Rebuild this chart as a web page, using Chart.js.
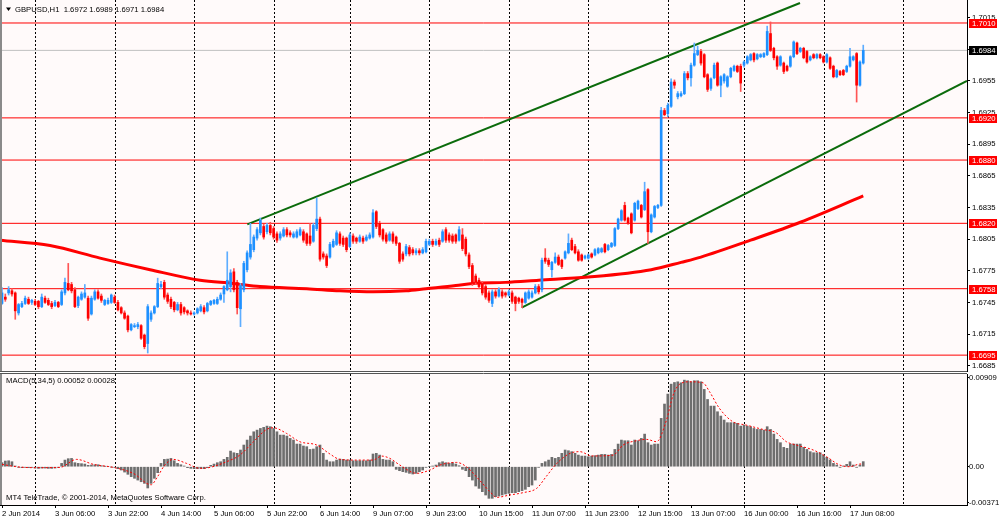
<!DOCTYPE html>
<html>
<head>
<meta charset="utf-8">
<script src="https://cdn.jsdelivr.net/npm/chart.js@4.4.1/dist/chart.umd.min.js"></script>
<style>
  html, body { margin: 0; padding: 0; background: #fff; }
  #wrap { position: relative; width: 1000px; height: 520px; overflow: hidden; }
  #main { position: absolute; left: 0; top: 0; }
  #macd { position: absolute; left: 0; top: 372px; }
</style>
</head>
<body>
<div id="wrap">
  <canvas id="main" width="1000" height="372"></canvas>
  <canvas id="macd" width="1000" height="148"></canvas>
</div>
<script>
// GBPUSD H1 candles, 2 Jun 14:00 .. 17 Jun 11:00
const opens = [
  1.6744,1.6750,1.6754,1.6756,1.6754,1.6735,1.6741,1.6744,1.6748,1.6745,
  1.6746,1.6746,1.6741,1.6749,1.6747,1.6744,1.6742,1.6745,1.6743,1.6754,
  1.6763,1.6762,1.6757,1.6742,1.6748,1.6750,1.6749,1.6734,1.6748,1.6755,
  1.6751,1.6743,1.6744,1.6745,1.6750,1.6745,1.6740,1.6735,1.6732,1.6719,
  1.6722,1.6722,1.6723,1.6714,1.6706,1.6729,1.6735,1.6741,1.6760,1.6764,
  1.6752,1.6748,1.6745,1.6738,1.6743,1.6740,1.6737,1.6735,1.6734,1.6735,
  1.6737,1.6740,1.6737,1.6743,1.6744,1.6744,1.6748,1.6753,1.6757,1.6760,
  1.6774,1.6764,1.6739,1.6757,1.6776,1.6788,1.6795,1.6806,1.6811,1.6817,
  1.6812,1.6818,1.6815,1.6810,1.6806,1.6808,1.6814,1.6811,1.6807,1.6807,
  1.6809,1.6812,1.6810,1.6808,1.6803,1.6815,1.6824,1.6791,1.6789,1.6788,
  1.6798,1.6800,1.6810,1.6806,1.6806,1.6798,1.6808,1.6806,1.6803,1.6806,
  1.6804,1.6806,1.6807,1.6831,1.6820,1.6814,1.6809,1.6804,1.6810,1.6807,
  1.6801,1.6791,1.6791,1.6797,1.6795,1.6792,1.6794,1.6792,1.6793,1.6800,
  1.6803,1.6800,1.6804,1.6803,1.6814,1.6809,1.6808,1.6809,1.6804,1.6809,
  1.6805,1.6790,1.6780,1.6770,1.6766,1.6763,1.6760,1.6754,1.6744,1.6755,
  1.6751,1.6755,1.6754,1.6752,1.6754,1.6750,1.6749,1.6748,1.6745,1.6749,
  1.6750,1.6754,1.6760,1.6757,1.6787,1.6785,1.6776,1.6783,1.6788,1.6785,
  1.6787,1.6792,1.6804,1.6798,1.6793,1.6790,1.6787,1.6787,1.6791,1.6790,
  1.6792,1.6793,1.6800,1.6795,1.6798,1.6799,1.6815,1.6823,1.6837,1.6825,
  1.6829,1.6823,1.6834,1.6837,1.6833,1.6852,1.6812,1.6826,1.6835,1.6837,
  1.6927,1.6924,1.6931,1.6954,1.6940,1.6941,1.6943,1.6962,1.6958,1.6970,
  1.6980,1.6983,1.6980,1.6961,1.6948,1.6958,1.6972,1.6951,1.6955,1.6950,
  1.6959,1.6965,1.6969,1.6969,1.6970,1.6972,1.6975,1.6981,1.6976,1.6978,
  1.6978,1.6980,1.7000,1.6986,1.6978,1.6970,1.6972,1.6969,1.6969,1.6978,
  1.6991,1.6983,1.6986,1.6983,1.6975,1.6980,1.6977,1.6980,1.6978,1.6973,
  1.6977,1.6969,1.6959,1.6964,1.6965,1.6964,1.6969,1.6975,1.6981,1.6951,1.6972
]
const highs = [
  1.6759,1.6753,1.6760,1.6758,1.6755,1.6744,1.6746,1.6751,1.6750,1.6748,
  1.6748,1.6747,1.6753,1.6751,1.6749,1.6746,1.6747,1.6746,1.6757,1.6768,
  1.6782,1.6764,1.6759,1.6751,1.6755,1.6762,1.6751,1.6751,1.6757,1.6757,
  1.6753,1.6748,1.6749,1.6753,1.6752,1.6747,1.6741,1.6737,1.6733,1.6725,
  1.6725,1.6726,1.6724,1.6715,1.6743,1.6737,1.6742,1.6768,1.6765,1.6766,
  1.6754,1.6750,1.6746,1.6745,1.6745,1.6741,1.6738,1.6737,1.6736,1.6740,
  1.6743,1.6742,1.6745,1.6747,1.6748,1.6750,1.6754,1.6761,1.6793,1.6776,
  1.6777,1.6766,1.6763,1.6784,1.6794,1.6820,1.6809,1.6816,1.6825,1.6819,
  1.6820,1.6821,1.6817,1.6812,1.6812,1.6816,1.6816,1.6813,1.6812,1.6814,
  1.6816,1.6814,1.6811,1.6820,1.6820,1.6844,1.6826,1.6793,1.6791,1.6802,
  1.6805,1.6813,1.6812,1.6808,1.6807,1.6811,1.6810,1.6807,1.6809,1.6808,
  1.6809,1.6811,1.6833,1.6832,1.6822,1.6815,1.6811,1.6812,1.6812,1.6808,
  1.6802,1.6793,1.6800,1.6799,1.6797,1.6796,1.6796,1.6797,1.6805,1.6805,
  1.6805,1.6805,1.6806,1.6814,1.6816,1.6811,1.6810,1.6810,1.6817,1.6815,
  1.6807,1.6792,1.6782,1.6772,1.6768,1.6765,1.6762,1.6756,1.6757,1.6757,
  1.6759,1.6757,1.6755,1.6757,1.6756,1.6751,1.6750,1.6749,1.6755,1.6757,
  1.6756,1.6762,1.6762,1.6787,1.6796,1.6787,1.6784,1.6792,1.6790,1.6786,
  1.6794,1.6810,1.6806,1.6800,1.6795,1.6791,1.6790,1.6791,1.6792,1.6796,
  1.6797,1.6797,1.6801,1.6800,1.6802,1.6816,1.6825,1.6833,1.6840,1.6826,
  1.6830,1.6840,1.6842,1.6838,1.6859,1.6853,1.6829,1.6837,1.6838,1.6930,
  1.6929,1.6934,1.6957,1.6956,1.6945,1.6945,1.6964,1.6964,1.6972,1.6991,
  1.6988,1.6985,1.6981,1.6962,1.6958,1.6972,1.6973,1.6960,1.6962,1.6960,
  1.6968,1.6970,1.6970,1.6971,1.6974,1.6979,1.6981,1.6982,1.6981,1.6981,
  1.6982,1.7007,1.7011,1.6987,1.6979,1.6979,1.6973,1.6970,1.6979,1.6993,
  1.6992,1.6987,1.6987,1.6984,1.6979,1.6981,1.6981,1.6981,1.6979,1.6981,
  1.6978,1.6970,1.6966,1.6965,1.6966,1.6970,1.6986,1.6979,1.6982,1.6974,1.6989
]
const lows = [
  1.6743,1.6746,1.6752,1.6751,1.6729,1.6733,1.6740,1.6743,1.6743,1.6743,
  1.6742,1.6739,1.6740,1.6744,1.6742,1.6739,1.6741,1.6740,1.6742,1.6752,
  1.6756,1.6754,1.6740,1.6740,1.6747,1.6749,1.6728,1.6733,1.6747,1.6748,
  1.6745,1.6742,1.6743,1.6744,1.6744,1.6737,1.6734,1.6729,1.6717,1.6718,
  1.6721,1.6720,1.6710,1.6701,1.6697,1.6727,1.6734,1.6740,1.6758,1.6748,
  1.6744,1.6739,1.6736,1.6737,1.6733,1.6734,1.6733,1.6733,1.6733,1.6734,
  1.6736,1.6734,1.6736,1.6742,1.6743,1.6743,1.6747,1.6745,1.6756,1.6755,
  1.6755,1.6734,1.6722,1.6755,1.6774,1.6786,1.6793,1.6804,1.6809,1.6805,
  1.6810,1.6809,1.6805,1.6802,1.6804,1.6807,1.6807,1.6807,1.6806,1.6806,
  1.6808,1.6802,1.6799,1.6799,1.6802,1.6813,1.6784,1.6786,1.6778,1.6787,
  1.6797,1.6799,1.6799,1.6798,1.6793,1.6797,1.6801,1.6801,1.6802,1.6801,
  1.6803,1.6805,1.6806,1.6815,1.6807,1.6803,1.6801,1.6803,1.6801,1.6799,
  1.6782,1.6784,1.6789,1.6789,1.6790,1.6790,1.6790,1.6791,1.6792,1.6799,
  1.6798,1.6799,1.6798,1.6802,1.6802,1.6802,1.6801,1.6801,1.6803,1.6794,
  1.6789,1.6777,1.6761,1.6762,1.6758,1.6752,1.6748,1.6745,1.6741,1.6749,
  1.6750,1.6749,1.6750,1.6751,1.6744,1.6737,1.6744,1.6740,1.6744,1.6748,
  1.6749,1.6753,1.6753,1.6755,1.6782,1.6779,1.6769,1.6782,1.6780,1.6777,
  1.6786,1.6791,1.6794,1.6791,1.6784,1.6784,1.6786,1.6786,1.6787,1.6789,
  1.6791,1.6792,1.6792,1.6794,1.6797,1.6798,1.6814,1.6822,1.6822,1.6819,
  1.6810,1.6822,1.6833,1.6825,1.6832,1.6801,1.6811,1.6825,1.6834,1.6836,
  1.6922,1.6921,1.6930,1.6948,1.6938,1.6940,1.6942,1.6956,1.6950,1.6969,
  1.6979,1.6970,1.6958,1.6945,1.6946,1.6957,1.6950,1.6940,1.6953,1.6949,
  1.6958,1.6964,1.6963,1.6945,1.6968,1.6971,1.6974,1.6973,1.6975,1.6977,
  1.6977,1.6979,1.6983,1.6975,1.6966,1.6969,1.6962,1.6964,1.6968,1.6977,
  1.6980,1.6982,1.6976,1.6972,1.6974,1.6976,1.6976,1.6976,1.6972,1.6972,
  1.6966,1.6958,1.6958,1.6960,1.6960,1.6963,1.6968,1.6974,1.6935,1.6950,1.6971
]
const closes = [
  1.6754,1.6748,1.6757,1.6753,1.6737,1.6743,1.6744,1.6749,1.6744,1.6747,
  1.6743,1.6741,1.6750,1.6745,1.6743,1.6741,1.6745,1.6741,1.6755,1.6764,
  1.6757,1.6756,1.6741,1.6750,1.6753,1.6754,1.6730,1.6749,1.6755,1.6749,
  1.6747,1.6747,1.6747,1.6752,1.6745,1.6738,1.6735,1.6730,1.6719,1.6724,
  1.6723,1.6724,1.6711,1.6703,1.6741,1.6735,1.6741,1.6763,1.6762,1.6750,
  1.6746,1.6741,1.6738,1.6743,1.6735,1.6736,1.6735,1.6734,1.6735,1.6739,
  1.6741,1.6736,1.6744,1.6746,1.6747,1.6748,1.6752,1.6760,1.6766,1.6773,
  1.6757,1.6740,1.6761,1.6782,1.6792,1.6800,1.6807,1.6814,1.6823,1.6807,
  1.6818,1.6811,1.6807,1.6804,1.6810,1.6814,1.6809,1.6809,1.6810,1.6812,
  1.6814,1.6804,1.6801,1.6801,1.6818,1.6824,1.6786,1.6788,1.6780,1.6800,
  1.6803,1.6811,1.6801,1.6800,1.6795,1.6809,1.6803,1.6803,1.6807,1.6803,
  1.6807,1.6809,1.6830,1.6817,1.6809,1.6805,1.6803,1.6810,1.6803,1.6801,
  1.6784,1.6786,1.6798,1.6791,1.6792,1.6794,1.6792,1.6795,1.6803,1.6803,
  1.6800,1.6803,1.6800,1.6812,1.6804,1.6804,1.6803,1.6803,1.6814,1.6796,
  1.6791,1.6779,1.6763,1.6764,1.6760,1.6754,1.6750,1.6747,1.6755,1.6751,
  1.6757,1.6751,1.6752,1.6755,1.6746,1.6744,1.6746,1.6745,1.6754,1.6755,
  1.6754,1.6760,1.6755,1.6785,1.6784,1.6781,1.6783,1.6788,1.6781,1.6779,
  1.6793,1.6801,1.6795,1.6792,1.6785,1.6785,1.6789,1.6790,1.6788,1.6795,
  1.6796,1.6796,1.6793,1.6799,1.6801,1.6815,1.6824,1.6832,1.6823,1.6820,
  1.6811,1.6839,1.6841,1.6826,1.6850,1.6812,1.6828,1.6836,1.6837,1.6927,
  1.6923,1.6932,1.6954,1.6951,1.6943,1.6943,1.6962,1.6958,1.6970,1.6981,
  1.6984,1.6972,1.6959,1.6947,1.6957,1.6970,1.6951,1.6959,1.6961,1.6959,
  1.6967,1.6969,1.6964,1.6953,1.6973,1.6978,1.6980,1.6975,1.6980,1.6980,
  1.6981,1.7002,1.6984,1.6977,1.6969,1.6978,1.6964,1.6965,1.6978,1.6992,
  1.6981,1.6986,1.6977,1.6973,1.6978,1.6977,1.6980,1.6977,1.6973,1.6980,
  1.6967,1.6959,1.6965,1.6961,1.6961,1.6969,1.6978,1.6978,1.6951,1.6973,1.6984
]

// moving average, read at sample bars
const maBars = [-0.6, 14.5, 29.6, 44.7, 59.8, 69.7, 77.9, 92, 102, 112, 122, 128, 137, 142, 152, 162, 177, 196, 205, 211, 226, 241, 260]
const maVals = [1.6804, 1.6799, 1.6787, 1.6776, 1.6766, 1.6763, 1.6760, 1.6758, 1.6756, 1.6755, 1.6756, 1.6758, 1.6761, 1.6763, 1.6764, 1.6766, 1.6769, 1.6776, 1.6783, 1.6788, 1.6804, 1.6821, 1.6846]

// channel lines
const upperBars = [74.05, 240.9]
const upperVals = [1.6819, 1.7029]
const lowerBars = [156.9, 291.3]
const lowerVals = [1.6740, 1.6955]

// horizontal levels
const levels = [1.7010, 1.6920, 1.6880, 1.6820, 1.6758, 1.6695]
const bidPrice = 1.6984

// MACD(5,34,5)
const macdHist = [
  0.00041, 0.00058, 0.00061, 0.00051, 0.00007, -0.00007, -0.00010, -0.00007, -0.00010, -0.00007,
  -0.00014, -0.00017, -0.00014, -0.00014, -0.00017, -0.00017, -0.00014, -0.00007, 0.00034, 0.00068,
  0.00082, 0.00085, 0.00041, 0.00034, 0.00031, 0.00027, 0.00014, 0.00017, 0.00020, 0.00020,
  0.00010, 0.00003, 0.00000, -0.00003, -0.00007, -0.00020, -0.00034, -0.00055, -0.00078, -0.00102,
  -0.00119, -0.00137, -0.00154, -0.00171, -0.00218, -0.00171, -0.00119, -0.00061, 0.00034, 0.00075,
  0.00078, 0.00085, 0.00061, 0.00034, 0.00020, 0.00007, -0.00010, -0.00017, -0.00020, -0.00020,
  -0.00017, -0.00020, -0.00010, 0.00014, 0.00027, 0.00041, 0.00051, 0.00075, 0.00096, 0.00160,
  0.00143, 0.00137, 0.00171, 0.00222, 0.00273, 0.00314, 0.00358, 0.00375, 0.00392, 0.00403,
  0.00416, 0.00410, 0.00392, 0.00358, 0.00324, 0.00324, 0.00314, 0.00290, 0.00273, 0.00232,
  0.00232, 0.00212, 0.00205, 0.00177, 0.00181, 0.00205, 0.00222, 0.00137, 0.00068, 0.00051,
  0.00051, 0.00068, 0.00078, 0.00075, 0.00068, 0.00068, 0.00061, 0.00061, 0.00061, 0.00061,
  0.00061, 0.00068, 0.00130, 0.00137, 0.00119, 0.00075, 0.00068, 0.00068, 0.00051, -0.00027,
  -0.00041, -0.00051, -0.00058, -0.00068, -0.00075, -0.00068, -0.00051, -0.00034, -0.00007, 0.00000,
  0.00007, 0.00017, 0.00041, 0.00051, 0.00041, 0.00034, 0.00041, 0.00027, 0.00010, -0.00027,
  -0.00041, -0.00102, -0.00137, -0.00198, -0.00222, -0.00256, -0.00290, -0.00324, -0.00324, -0.00307,
  -0.00300, -0.00290, -0.00280, -0.00273, -0.00266, -0.00266, -0.00256, -0.00246, -0.00232, -0.00205,
  -0.00188, -0.00137, -0.00007, 0.00034, 0.00051, 0.00068, 0.00096, 0.00085, 0.00096, 0.00137,
  0.00171, 0.00164, 0.00154, 0.00137, 0.00119, 0.00109, 0.00109, 0.00102, 0.00109, 0.00113,
  0.00119, 0.00126, 0.00126, 0.00119, 0.00126, 0.00177, 0.00232, 0.00273, 0.00266, 0.00266,
  0.00222, 0.00273, 0.00266, 0.00290, 0.00334, 0.00246, 0.00222, 0.00232, 0.00232, 0.00495,
  0.00642, 0.00744, 0.00846, 0.00863, 0.00870, 0.00860, 0.00887, 0.00881, 0.00870, 0.00881,
  0.00881, 0.00870, 0.00792, 0.00689, 0.00621, 0.00621, 0.00563, 0.00519, 0.00478, 0.00451,
  0.00451, 0.00451, 0.00444, 0.00416, 0.00427, 0.00416, 0.00410, 0.00392, 0.00382, 0.00382,
  0.00375, 0.00410, 0.00382, 0.00334, 0.00280, 0.00246, 0.00198, 0.00188, 0.00232, 0.00232,
  0.00232, 0.00232, 0.00198, 0.00177, 0.00154, 0.00143, 0.00143, 0.00143, 0.00119, 0.00096,
  0.00068, 0.00034, 0.00017, -0.00007, 0.00007, 0.00024, 0.00051, 0.00017, -0.00007, 0.00017, 0.00052
]
const signalBars = [0, 4.4, 9.5, 17.5, 22.5, 27.6, 33.6, 39.6, 45, 47, 49, 51.7, 55.7, 59.8, 62.8, 67.8, 71.8, 75.9, 79.9, 81.9, 85.9, 89.9, 95, 99, 102, 107, 112, 114.6, 117.1, 120.1, 125.2, 129.2, 132.2, 137.2, 140.2, 143.2, 147.3, 149.3, 153.3, 157.3, 161.4, 164.4, 167.5, 171.5, 174.5, 178, 184.5, 187.5, 191.5, 194.6, 197.6, 200.6, 202.6, 204.6, 207.6, 211.6, 213.6, 216.6, 220.6, 224.6, 229.7, 233.7, 236.8, 239.8, 244.9, 248.9, 252.9, 255.9, 258.9, 260]
const signalVals = [0.00024, 0.00000, -0.00010, -0.00007, 0.00075, 0.00024, -0.00007, -0.00068, -0.00185, -0.00100, 0.00010, 0.00075, 0.00034, -0.00017, -0.00007, 0.00051, 0.00119, 0.00256, 0.00382, 0.00399, 0.00341, 0.00256, 0.00222, 0.00130, 0.00075, 0.00068, 0.00068, 0.00109, 0.00085, 0.00017, -0.00068, -0.00034, 0.00017, 0.00044, 0.00000, -0.00102, -0.00256, -0.00314, -0.00290, -0.00266, -0.00222, -0.00096, 0.00034, 0.00137, 0.00154, 0.00110, 0.00119, 0.00222, 0.00266, 0.00280, 0.00256, 0.00478, 0.00734, 0.00846, 0.00870, 0.00860, 0.00768, 0.00597, 0.00461, 0.00427, 0.00382, 0.00348, 0.00256, 0.00222, 0.00171, 0.00102, 0.00017, 0.00000, 0.00027, 0.00028]

// axes
const priceTicks = [1.6685, 1.6715, 1.6745, 1.6775, 1.6805, 1.6835, 1.6865, 1.6895, 1.6925, 1.6955, 1.6985, 1.7015]
const macdTicks = [-0.00371, 0, 0.00909]
const timeTickBars = [0, 16, 32, 48, 64, 80, 96, 112, 128, 144, 160, 176, 192, 208, 224, 240, 256]
const timeLabels = ["2 Jun 2014", "3 Jun 06:00", "3 Jun 22:00", "4 Jun 14:00", "5 Jun 06:00", "5 Jun 22:00", "6 Jun 14:00", "9 Jun 07:00", "9 Jun 23:00", "10 Jun 15:00", "11 Jun 07:00", "11 Jun 23:00", "12 Jun 15:00", "13 Jun 07:00", "16 Jun 00:00", "16 Jun 16:00", "17 Jun 08:00"]
const dayLines = [10, 34, 58, 82, 105, 129, 153, 177, 201, 224, 248, 272]

const X_MIN = -0.604, X_MAX = 291.32
const FONT = '"Liberation Sans", Arial, sans-serif'
const FSIZE = 7.7
const UP = "#1E90FF", DOWN = "#FF0000"
const UP_WICK = "#5EADFF", DOWN_WICK = "#FF5555"
const PLOT_BG = "#FFFAFA"

Chart.defaults.font.family = FONT
Chart.defaults.font.size = FSIZE
Chart.defaults.color = "#000"

const idx = opens.map((_, i) => i)
const pts = (xs, ys) => xs.map((x, k) => ({ x: x, y: ys[k] }))

// shared plugins
const plotBg = {
  id: "plotBg",
  beforeDraw(chart) {
    const { ctx, chartArea: a } = chart
    ctx.save()
    ctx.fillStyle = PLOT_BG
    ctx.fillRect(a.left, a.top, a.right - a.left, a.bottom - a.top)
    ctx.restore()
  }
}

const dayGrid = {
  id: "dayGrid",
  beforeDatasetsDraw(chart) {
    const { ctx, chartArea: a } = chart
    const x = chart.scales.x
    ctx.save()
    ctx.strokeStyle = "#000"
    ctx.lineWidth = 1
    ctx.setLineDash([2, 2])
    dayLines.forEach(d => {
      const px = Math.round(x.getPixelForValue(d)) + 0.5
      ctx.beginPath()
      ctx.moveTo(px, a.top)
      ctx.lineTo(px, a.bottom)
      ctx.stroke()
    })
    ctx.restore()
  }
}

function leftEdge(chart) {
  const { ctx, chartArea: a } = chart
  ctx.fillStyle = "#8a8a8a"
  ctx.fillRect(0, a.top, 2, a.bottom - a.top)
}

// price chart decorations: title, panel edge, level labels
const priceDecor = {
  id: "priceDecor",
  afterDraw(chart) {
    const { ctx, chartArea: a } = chart
    const y = chart.scales.y
    ctx.save()
    leftEdge(chart)
    ctx.strokeStyle = "#555"
    ctx.lineWidth = 1
    ctx.beginPath()
    ctx.moveTo(0, a.bottom - 0.5)
    ctx.lineTo(a.right, a.bottom - 0.5)
    ctx.stroke()

    ctx.font = FSIZE + "px " + FONT
    ctx.textBaseline = "middle"
    ctx.textAlign = "left"
    const box = (v, bg) => {
      const py = Math.round(y.getPixelForValue(v))
      ctx.fillStyle = bg
      ctx.fillRect(a.right + 2, py - 4, 28, 9)
      ctx.fillStyle = "#fff"
      ctx.fillText(v.toFixed(4), a.right + 5, py + 0.5)
    }
    levels.forEach(v => box(v, "#FF0000"))
    box(bidPrice, "#000")

    // title
    ctx.fillStyle = "#000"
    ctx.beginPath()
    ctx.moveTo(6, 7.5)
    ctx.lineTo(11, 7.5)
    ctx.lineTo(8.5, 11)
    ctx.closePath()
    ctx.fill()
    ctx.fillText("GBPUSD,H1  1.6972 1.6989 1.6971 1.6984", 15, 9.5)
    ctx.restore()
  }
}

const macdDecor = {
  id: "macdDecor",
  afterDraw(chart) {
    const { ctx, chartArea: a } = chart
    ctx.save()
    leftEdge(chart)
    ctx.strokeStyle = "#555"
    ctx.lineWidth = 1
    ctx.beginPath()
    ctx.moveTo(0, a.top - 0.5)
    ctx.lineTo(a.right, a.top - 0.5)
    ctx.stroke()
    ctx.font = FSIZE + "px " + FONT
    ctx.fillStyle = "#000"
    ctx.textBaseline = "middle"
    ctx.fillText("MACD(5,34,5) 0.00052 0.00028", 6, 9)
    ctx.fillText("MT4 TeleTrade, \u00A9 2001-2014, MetaQuotes Software Corp.", 6, 126)
    ctx.restore()
  }
}

const levelSets = levels.map(v => ({
  type: "line",
  data: [{ x: X_MIN, y: v }, { x: X_MAX, y: v }],
  borderColor: "#FF0000",
  borderWidth: 1,
  pointRadius: 0,
  order: 5
}))

new Chart(document.getElementById("main"), {
  type: "bar",
  data: {
    datasets: [
      {
        label: "body",
        data: idx.map(i => ({ x: i, y: [opens[i], closes[i]] })),
        backgroundColor: idx.map(i => closes[i] >= opens[i] ? UP : DOWN),
        barThickness: 2,
        minBarLength: 1,
        grouped: false,
        borderWidth: 0,
        order: 0
      },
      {
        label: "wick",
        data: idx.map(i => ({ x: i, y: [lows[i], highs[i]] })),
        backgroundColor: idx.map(i => closes[i] >= opens[i] ? UP_WICK : DOWN_WICK),
        barThickness: 1,
        grouped: false,
        borderWidth: 0,
        order: 1
      },
      {
        type: "line",
        label: "MA",
        data: pts(maBars, maVals),
        borderColor: "#FF0000",
        borderWidth: 3,
        pointRadius: 0,
        cubicInterpolationMode: "monotone",
        order: 2
      },
      {
        type: "line",
        data: pts(upperBars, upperVals),
        borderColor: "#0B6B0B",
        borderWidth: 2,
        pointRadius: 0,
        order: 3
      },
      {
        type: "line",
        data: pts(lowerBars, lowerVals),
        borderColor: "#0B6B0B",
        borderWidth: 2,
        pointRadius: 0,
        order: 3
      },
      ...levelSets,
      {
        type: "line",
        data: [{ x: X_MIN, y: bidPrice }, { x: X_MAX, y: bidPrice }],
        borderColor: "#C0C0C0",
        borderWidth: 1,
        pointRadius: 0,
        order: 6
      }
    ]
  },
  options: {
    responsive: false,
    animation: false,
    events: [],
    layout: { padding: 0 },
    plugins: { legend: { display: false }, tooltip: { enabled: false } },
    scales: {
      x: { type: "linear", min: X_MIN, max: X_MAX, offset: false, grid: { offset: false }, display: false },
      y: {
        position: "right",
        min: 1.66790,
        max: 1.70318,
        afterBuildTicks: s => { s.ticks = priceTicks.map(v => ({ value: v })) },
        afterFit: s => { s.width = 33; s.paddingTop = 0; s.paddingBottom = 0 },
        ticks: { callback: v => v.toFixed(4), padding: 2, autoSkip: false },
        grid: { drawOnChartArea: false, tickLength: 3, color: "#000" },
        border: { display: true, color: "#000" }
      }
    }
  },
  plugins: [plotBg, dayGrid, priceDecor]
})

new Chart(document.getElementById("macd"), {
  type: "bar",
  data: {
    datasets: [
      {
        type: "line",
        label: "signal",
        data: pts(signalBars, signalVals),
        borderColor: "#FF0000",
        borderWidth: 1,
        borderDash: [2, 2],
        pointRadius: 0,
        cubicInterpolationMode: "monotone",
        order: 0
      },
      {
        label: "MACD",
        data: idx.map(i => ({ x: i, y: macdHist[i] })),
        backgroundColor: "#6E6E6E",
        barThickness: 2,
        grouped: false,
        borderWidth: 0,
        order: 1
      }
    ]
  },
  options: {
    responsive: false,
    animation: false,
    events: [],
    layout: { padding: { top: 2, left: 0, right: 0, bottom: 0 } },
    plugins: { legend: { display: false }, tooltip: { enabled: false } },
    scales: {
      x: {
        type: "linear",
        min: X_MIN,
        max: X_MAX,
        offset: false,
        position: "bottom",
        afterBuildTicks: s => { s.ticks = timeTickBars.map(v => ({ value: v })) },
        afterFit: s => { s.height = 15; s.paddingLeft = 0; s.paddingRight = 0 },
        ticks: {
          callback: (v, i) => timeLabels[i],
          align: "start",
          padding: 1,
          maxRotation: 0,
          minRotation: 0,
          autoSkip: false
        },
        grid: { offset: false, drawOnChartArea: false, tickLength: 3, color: "#000" },
        border: { display: true, color: "#000" }
      },
      y: {
        position: "right",
        min: -0.003924,
        max: 0.009498,
        afterBuildTicks: s => { s.ticks = macdTicks.map(v => ({ value: v })) },
        afterFit: s => { s.width = 33; s.paddingTop = 0; s.paddingBottom = 0 },
        ticks: { callback: v => v === 0 ? "0.00" : v.toFixed(5), padding: 0, autoSkip: false },
        grid: { drawOnChartArea: false, tickLength: 2, color: "#000" },
        border: { display: true, color: "#000" }
      }
    }
  },
  plugins: [plotBg, dayGrid, macdDecor]
})
</script>
</body>
</html>
